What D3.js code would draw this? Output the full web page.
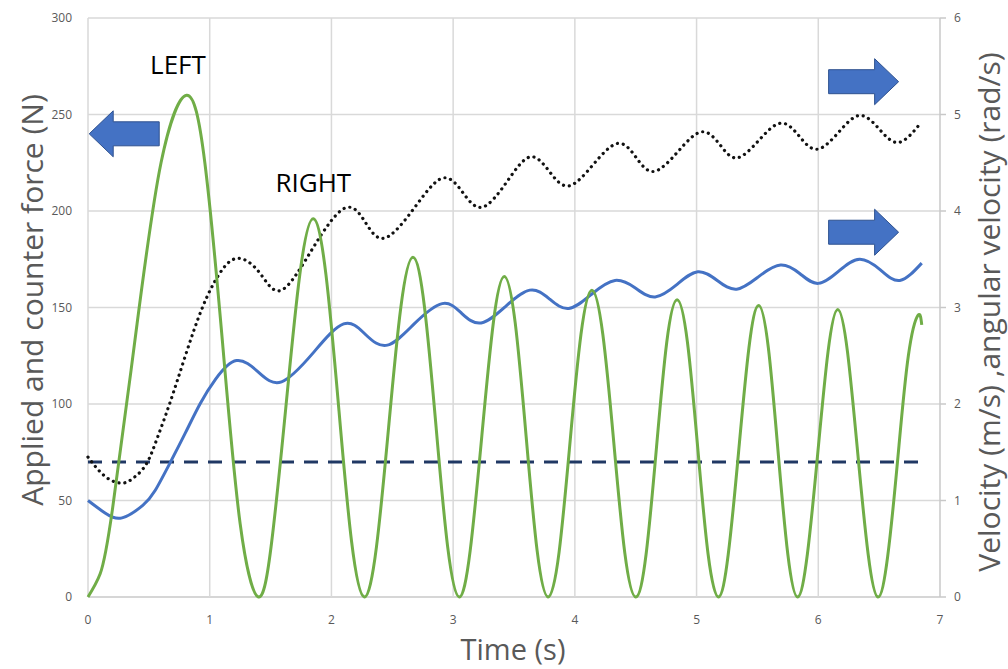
<!DOCTYPE html>
<html>
<head>
<meta charset="utf-8">
<script src="https://cdn.jsdelivr.net/npm/d3@7"></script>
<style>
  body { margin: 0; background: #fff; }
  svg { display: block; }
</style>
</head>
<body>
<svg id="chart"></svg>
<script>
const width = 1008;
const height = 669;

// Données
const timeTicks = [0, 1, 2, 3, 4, 5, 6, 7];
const forceTicks = [0, 50, 100, 150, 200, 250, 300];
const velocityTicks = [0, 1, 2, 3, 4, 5, 6];

// force appliquée (N) : [t, F]
const appliedForce = [
  [0, 0], [0.1, 12], [0.2, 45], [0.4, 140], [0.6, 225], [0.81, 260],
  [0.96, 225], [1.105, 132], [1.25, 38], [1.40, 0],
  [1.51, 29], [1.625, 98], [1.74, 167], [1.85, 196],
  [1.955, 167], [2.06, 98], [2.165, 29], [2.27, 0],
  [2.37, 26], [2.47, 88], [2.57, 150], [2.67, 176],
  [2.765, 150], [2.86, 88], [2.955, 26], [3.05, 0],
  [3.14, 24], [3.235, 83], [3.33, 142], [3.42, 166],
  [3.51, 142], [3.60, 83], [3.69, 24], [3.78, 0],
  [3.87, 23], [3.96, 80], [4.05, 136], [4.14, 159],
  [4.23, 136], [4.32, 80], [4.41, 23], [4.50, 0],
  [4.585, 22], [4.67, 77], [4.755, 132], [4.84, 154],
  [4.925, 132], [5.01, 77], [5.095, 22], [5.18, 0],
  [5.26, 22], [5.345, 75], [5.43, 129], [5.51, 151],
  [5.59, 129], [5.67, 75], [5.75, 22], [5.83, 0],
  [5.91, 22], [5.995, 74], [6.08, 127], [6.16, 149],
  [6.24, 127], [6.325, 74], [6.41, 22], [6.49, 0],
  [6.57, 21], [6.655, 73], [6.74, 125], [6.82, 146], [6.85, 141]
];

// contre-force (N), constante
const counterForce = [[0, 70], [6.85, 70]];

// vitesse (m/s) : [t, v]
const linearVelocity = [
  [0, 1.00], [0.14, 0.87], [0.28, 0.82], [0.45, 0.95], [0.55, 1.10],
  [0.67, 1.38], [0.80, 1.70], [0.92, 2.00], [1.05, 2.26], [1.22, 2.45],
  [1.40, 2.33], [1.59, 2.23], [1.85, 2.53], [2.10, 2.83], [2.28, 2.72],
  [2.46, 2.61], [2.68, 2.83], [2.91, 3.04], [3.07, 2.94], [3.23, 2.84],
  [3.43, 3.01], [3.63, 3.18], [3.79, 3.09], [3.95, 2.99], [4.14, 3.14],
  [4.33, 3.28], [4.50, 3.20], [4.66, 3.11], [4.84, 3.24], [5.01, 3.37],
  [5.17, 3.28], [5.33, 3.19], [5.51, 3.32], [5.69, 3.44], [5.85, 3.35],
  [6.00, 3.25], [6.17, 3.38], [6.34, 3.50], [6.51, 3.39], [6.67, 3.28],
  [6.85, 3.46]
];

// vitesse angulaire (rad/s) : [t, w]
const angularVelocity = [
  [0, 1.45], [0.14, 1.25], [0.28, 1.18], [0.38, 1.24], [0.48, 1.38],
  [0.57, 1.65], [0.67, 2.00], [0.80, 2.50], [0.94, 3.00], [1.08, 3.35],
  [1.23, 3.51], [1.41, 3.36], [1.59, 3.18], [1.85, 3.62], [2.11, 4.03],
  [2.28, 3.88], [2.44, 3.72], [2.68, 4.03], [2.91, 4.34], [3.08, 4.19],
  [3.24, 4.04], [3.44, 4.30], [3.63, 4.56], [3.79, 4.41], [3.95, 4.26],
  [4.15, 4.48], [4.35, 4.70], [4.50, 4.56], [4.65, 4.41], [4.85, 4.62],
  [5.04, 4.82], [5.19, 4.69], [5.33, 4.55], [5.51, 4.73], [5.69, 4.91],
  [5.84, 4.78], [5.99, 4.64], [6.17, 4.82], [6.34, 4.99], [6.50, 4.85],
  [6.66, 4.71], [6.84, 4.91]
];

// annotations : flèches (pointe en unités de données) et textes
const arrows = [
  { t: 0.01, f: 240, dir: -1 },
  { t: 6.66, f: 267, dir: 1 },
  { t: 6.66, f: 189, dir: 1 }
];
const labels = [
  { text: "LEFT", t: 0.51, f: 271 },
  { text: "RIGHT", t: 1.54, f: 210 }
];

const svg = d3.select("#chart")
  .attr("width", width)
  .attr("height", height);

const x = d3.scaleLinear().domain([0, 7]).range([88, 940]);
const yLeft = d3.scaleLinear().domain([0, 300]).range([597, 18]);
const yRight = d3.scaleLinear().domain([0, 6]).range([597, 18]);

const gridColor = "#d9d9d9";
const textColor = "#595959";
const font = "'Open Sans', sans-serif";

// Grille
svg.append("g")
  .selectAll("line")
  .data(forceTicks)
  .join("line")
  .attr("x1", x(0)).attr("x2", x(7))
  .attr("y1", d => yLeft(d)).attr("y2", d => yLeft(d))
  .attr("stroke", d => d === 0 ? "#c8c8c8" : gridColor)
  .attr("stroke-width", 1.5);

svg.append("g")
  .selectAll("line")
  .data(timeTicks)
  .join("line")
  .attr("x1", d => x(d)).attr("x2", d => x(d))
  .attr("y1", yLeft(0)).attr("y2", yLeft(300))
  .attr("stroke", d => d === 7 ? "#c8c8c8" : gridColor)
  .attr("stroke-width", 1.5);

// Axe droit : petites graduations
svg.append("g")
  .selectAll("line")
  .data(velocityTicks)
  .join("line")
  .attr("x1", x(7)).attr("x2", x(7) + 6)
  .attr("y1", d => yRight(d)).attr("y2", d => yRight(d))
  .attr("stroke", "#c8c8c8")
  .attr("stroke-width", 1.5);

// Étiquettes des graduations
svg.append("g")
  .selectAll("text")
  .data(forceTicks)
  .join("text")
  .attr("x", 72)
  .attr("y", d => yLeft(d))
  .attr("dy", "0.35em")
  .attr("text-anchor", "end")
  .attr("font-family", font)
  .attr("font-size", 12)
  .attr("fill", textColor)
  .text(d => d);

svg.append("g")
  .selectAll("text")
  .data(velocityTicks)
  .join("text")
  .attr("x", 954)
  .attr("y", d => yRight(d))
  .attr("dy", "0.35em")
  .attr("font-family", font)
  .attr("font-size", 12)
  .attr("fill", textColor)
  .text(d => d);

svg.append("g")
  .selectAll("text")
  .data(timeTicks)
  .join("text")
  .attr("x", d => x(d))
  .attr("y", 620)
  .attr("dy", "0.35em")
  .attr("text-anchor", "middle")
  .attr("font-family", font)
  .attr("font-size", 12)
  .attr("fill", textColor)
  .text(d => d);

// Titres des axes
svg.append("text")
  .attr("transform", "translate(43,300) rotate(-90)")
  .attr("text-anchor", "middle")
  .attr("font-family", font)
  .attr("font-size", 30)
  .attr("fill", textColor)
  .text("Applied and counter force (N)");

svg.append("text")
  .attr("transform", "translate(1000,312) rotate(-90)")
  .attr("text-anchor", "middle")
  .attr("font-family", font)
  .attr("font-size", 30)
  .attr("fill", textColor)
  .text("Velocity (m/s) ,angular velocity (rad/s)");

svg.append("text")
  .attr("x", 513)
  .attr("y", 660)
  .attr("text-anchor", "middle")
  .attr("font-family", font)
  .attr("font-size", 29)
  .attr("fill", textColor)
  .text("Time (s)");

// Courbes
const lineLeft = d3.line()
  .x(d => x(d[0]))
  .y(d => yLeft(d[1]))
  .curve(d3.curveNatural);

const lineRight = d3.line()
  .x(d => x(d[0]))
  .y(d => yRight(d[1]))
  .curve(d3.curveNatural);

svg.append("path")
  .datum(counterForce)
  .attr("d", lineLeft)
  .attr("fill", "none")
  .attr("stroke", "#203864")
  .attr("stroke-width", 3)
  .attr("stroke-dasharray", "14 10");

svg.append("path")
  .datum(angularVelocity)
  .attr("d", lineRight)
  .attr("fill", "none")
  .attr("stroke", "#111")
  .attr("stroke-width", 3.2)
  .attr("stroke-linecap", "round")
  .attr("stroke-dasharray", "0.1 5.8");

svg.append("path")
  .datum(linearVelocity)
  .attr("d", lineRight)
  .attr("fill", "none")
  .attr("stroke", "#4472c4")
  .attr("stroke-width", 3);

svg.append("path")
  .datum(appliedForce)
  .attr("d", lineLeft)
  .attr("fill", "none")
  .attr("stroke", "#70ad47")
  .attr("stroke-width", 3);

// Flèches
function arrowPath(a) {
  const tx = x(a.t), ty = yLeft(a.f), s = -a.dir;
  const pts = [
    [tx, ty], [tx + s * 24, ty - 23], [tx + s * 24, ty - 12], [tx + s * 70, ty - 12],
    [tx + s * 70, ty + 12], [tx + s * 24, ty + 12], [tx + s * 24, ty + 23]
  ];
  return "M" + pts.map(p => p.join(",")).join("L") + "Z";
}

svg.append("g")
  .selectAll("path")
  .data(arrows)
  .join("path")
  .attr("d", arrowPath)
  .attr("fill", "#4472c4")
  .attr("stroke", "#2f528f")
  .attr("stroke-width", 1);

svg.append("g")
  .selectAll("text")
  .data(labels)
  .join("text")
  .attr("x", d => x(d.t))
  .attr("y", d => yLeft(d.f))
  .attr("font-family", font)
  .attr("font-size", 26)
  .attr("fill", "#000")
  .text(d => d.text);
</script>
</body>
</html>
